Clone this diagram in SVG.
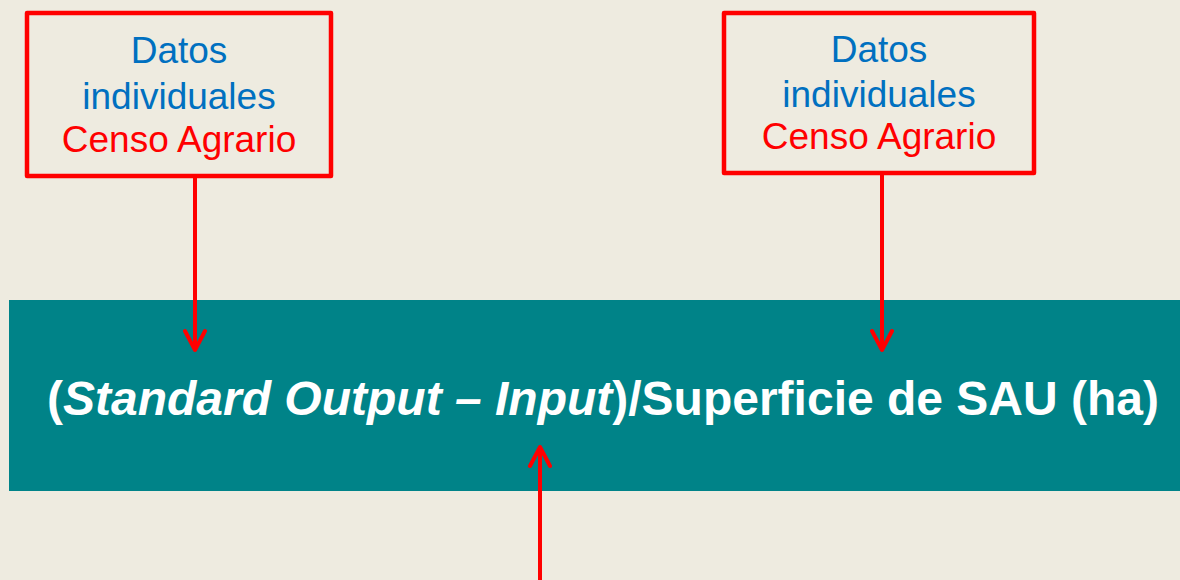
<svg xmlns="http://www.w3.org/2000/svg" width="1180" height="580" viewBox="0 0 1180 580">
<style>
.box{fill:none;stroke:#FF0000;stroke-width:4.5;stroke-linejoin:round}
.t{font-family:"Liberation Sans",Arial,sans-serif;font-size:37px;text-anchor:middle}
.blue{fill:#0070C0}
.red{fill:#FF0000}
.main{font-family:"Liberation Sans",Arial,sans-serif;font-size:48px;font-weight:bold;fill:#FFFFFF}
.conn{fill:none;stroke:#FF0000;stroke-width:4;stroke-linecap:round;stroke-linejoin:round}
</style>
<rect width="1180" height="580" fill="#EEEBE0"/>
<g id="formula">
<rect x="9" y="300" width="1171" height="191" fill="#008388"/>
<text class="main" x="47" y="415">(<tspan font-style="italic">Standard Output – Input</tspan>)/Superficie de SAU (ha)</text>
</g>
<g id="box-left">
<rect class="box" x="27" y="13" width="304" height="163"/>
<text class="t blue" x="179" y="63">Datos</text>
<text class="t blue" x="179" y="109">individuales</text>
<text class="t red" x="179" y="152">Censo Agrario</text>
</g>
<g id="box-right">
<rect class="box" x="724" y="13" width="310" height="160"/>
<text class="t blue" x="879" y="62">Datos</text>
<text class="t blue" x="879" y="107">individuales</text>
<text class="t red" x="879" y="149">Censo Agrario</text>
</g>
<g id="connectors">
<path class="conn" d="M195 178 V350 M185 331 L195 350 L205 331"/>
<path class="conn" d="M882 175 V350 M872 331 L882 350 L892 331"/>
<path class="conn" d="M540 582 V447 M530 466 L540 447 L550 466"/>
</g>
</svg>
